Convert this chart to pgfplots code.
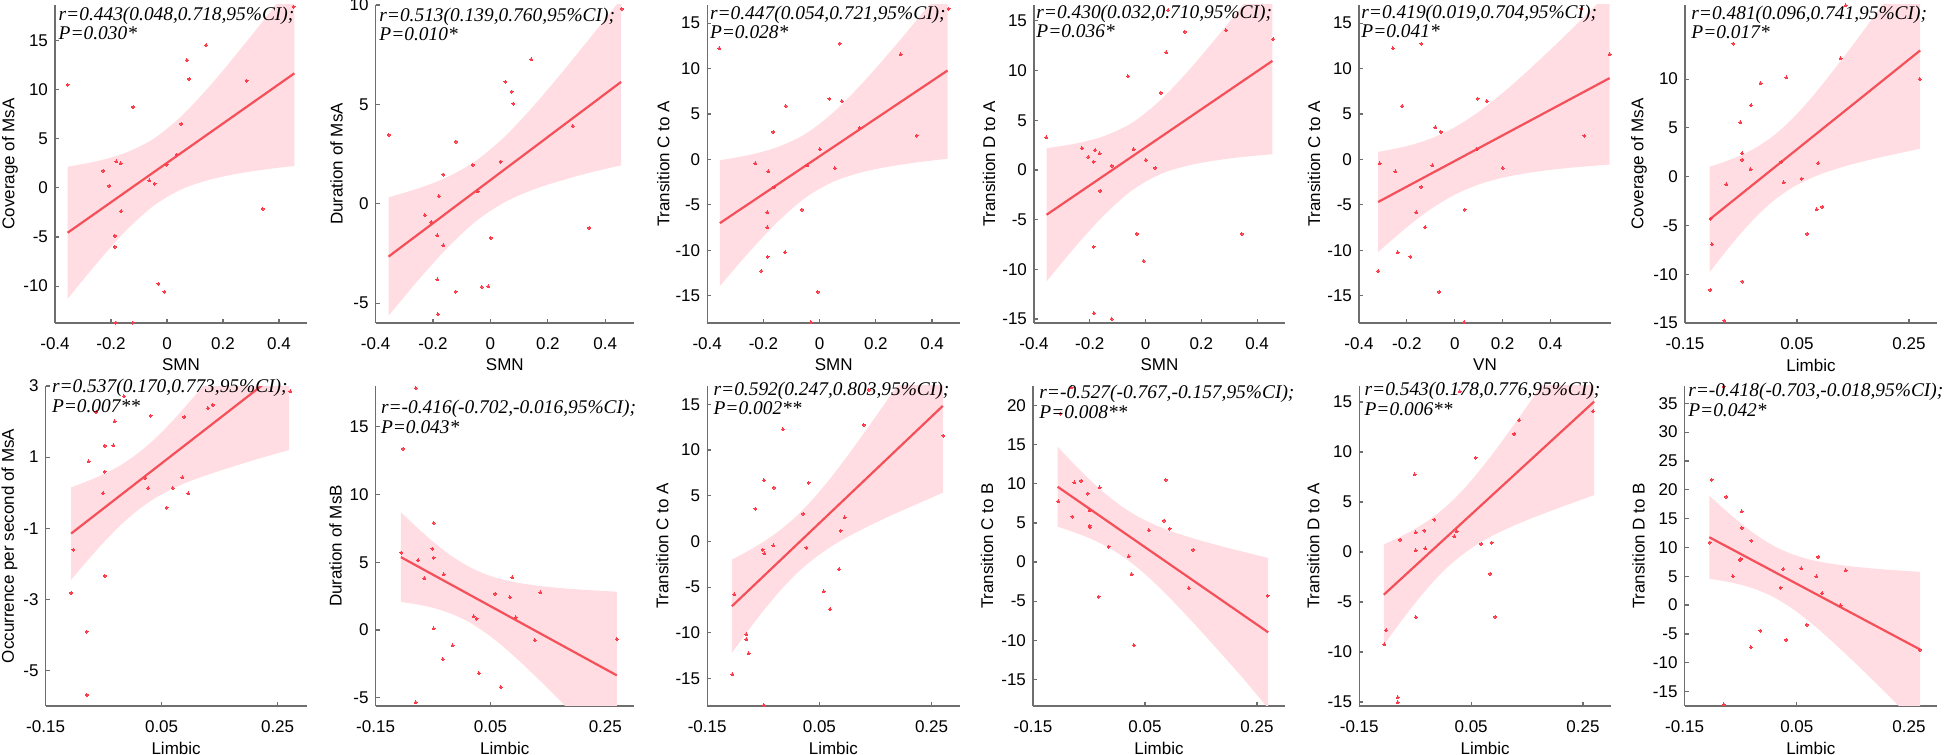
\documentclass[border=0pt]{standalone}
\usepackage{fontspec}
\setmainfont{Liberation Sans}
\newfontfamily\tnr{Liberation Serif}
\usepackage{pgfplots}
\pgfplotsset{compat=1.18}
\usepgfplotslibrary{fillbetween}
\definecolor{lc}{RGB}{245,80,90}
\definecolor{pc}{RGB}{250,60,75}
\definecolor{bc}{RGB}{255,221,226}
\definecolor{ax}{RGB}{110,110,110}
\pgfplotsset{
 panel/.style={scale only axis, anchor=south west, axis lines*=left, tick align=inside,
  major tick length=2pt, axis line style={ax, line width=0.6pt}, tick style={ax, line width=0.6pt},
  tick label style={font=\fontsize{8.5}{10}\selectfont, text=black},
  xticklabel style={anchor=center, yshift=-10.3pt},
  every axis x label/.style={at={(axis description cs:0.5,0)}, yshift=-21pt, anchor=center, font=\fontsize{8.5}{10}\selectfont},
  scaled ticks=false, clip=true},
 ylab/.style={every axis y label/.style={at={(axis description cs:0,0.5)}, xshift=#1, rotate=90, anchor=center, font=\fontsize{8.5}{10}\selectfont}},
 smn/.style={xmin=-0.4, xmax=0.5, xtick={-0.4,-0.2,0,0.2,0.4}, xticklabels={-0.4,-0.2,0,0.2,0.4}, xlabel={SMN}},
 limb/.style={xmin=-0.15, xmax=0.3, xtick={-0.15,0.05,0.25}, xticklabels={-0.15,0.05,0.25}, xlabel={Limbic}},
 y15/.style={ytick={-15,-10,-5,0,5,10,15}, yticklabels={-15,-10,-5,0,5,10,15}},
 bandfill/.style={fill=bc, draw=none},
 regline/.style={lc, line width=1.1pt},
 pts/.style={only marks, color=pc, mark=*, mark size=0.75pt, mark options={solid, draw=pc, fill=pc, line width=0pt}}
}
\newcommand\ann[5]{%
 \node[anchor=base west, inner sep=0pt, font=\tnr\itshape\fontsize{9.7}{10}\selectfont] at (#1pt,#2pt) {#4};
 \node[anchor=base west, inner sep=0pt, font=\tnr\itshape\fontsize{9.7}{10}\selectfont] at (#1pt,#3pt) {#5};}
\begin{document}
\begin{tikzpicture}
% ---------- P1
\begin{axis}[panel, smn, ylab=-22.5pt, at={(27.5pt,216pt)}, width=126pt, height=159pt,
  ymin=-13.75, ymax=18.6, ytick={-10,-5,0,5,10,15}, yticklabels={-10,-5,0,5,10,15}, ylabel={Coverage of MsA}]
\addplot[name path=U1, draw=none, smooth] coordinates {(-0.355,2.15) (-0.25,2.71) (-0.15,3.54) (-0.05,4.95) (0.05,7.25) (0.15,10.27) (0.25,13.67) (0.35,17.23) (0.455,21.05)};
\addplot[name path=L1, draw=none, smooth] coordinates {(-0.355,-11.29) (-0.25,-7.65) (-0.15,-4.46) (-0.05,-1.87) (0.05,-0.17) (0.15,0.81) (0.25,1.43) (0.35,1.87) (0.455,2.23)};
\addplot[bandfill] fill between[of=U1 and L1];
\addplot[pts] coordinates {(-0.355,10.5) (-0.228,1.73) (-0.206,0.2) (-0.181,2.68) (-0.166,2.5) (-0.163,-2.37) (-0.186,-4.88) (-0.186,-6.0) (-0.183,-13.7) (-0.122,-13.7) (-0.121,8.23) (-0.063,0.75) (-0.044,0.41) (-0.031,-9.76) (-0.009,-10.57) (-0.001,2.37) (0.034,3.39) (0.051,6.5) (0.071,13.0) (0.079,11.08) (0.140,14.5) (0.284,10.9) (0.342,-2.13) (0.452,18.43)};
\addplot[regline] coordinates {(-0.355,-4.57) (0.455,11.65)};
\end{axis}
% ---------- P2
\begin{axis}[panel, smn, ylab=-19.5pt, at={(187.8pt,216pt)}, width=129.2pt, height=159pt,
  ymin=-6, ymax=10, ytick={-5,0,5,10}, yticklabels={-5,0,5,10}, ylabel={Duration of MsA}]
\addplot[name path=U2, draw=none, smooth] coordinates {(-0.355,0.32) (-0.25,0.78) (-0.15,1.34) (-0.05,2.17) (0.05,3.38) (0.15,4.92) (0.25,6.62) (0.35,8.40) (0.455,10.3)};
\addplot[name path=L2, draw=none, smooth] coordinates {(-0.355,-5.64) (-0.25,-3.82) (-0.15,-2.22) (-0.05,-0.87) (0.05,0.08) (0.15,0.72) (0.25,1.18) (0.35,1.58) (0.455,1.93)};
\addplot[bandfill] fill between[of=U2 and L2];
\addplot[pts] coordinates {(-0.355,3.46) (-0.229,-0.57) (-0.206,-0.92) (-0.180,0.38) (-0.185,-1.59) (-0.165,1.47) (-0.164,-2.09) (-0.185,-3.81) (-0.183,-5.56) (-0.120,3.12) (-0.121,-4.42) (-0.062,1.95) (-0.044,0.62) (-0.031,-4.19) (-0.008,-4.16) (0.001,-1.72) (0.036,2.12) (0.052,6.14) (0.074,5.64) (0.080,5.04) (0.142,7.26) (0.286,3.91) (0.344,-1.22) (0.457,9.80)};
\addplot[regline] coordinates {(-0.355,-2.66) (0.455,6.13)};
\end{axis}
% ---------- P3
\begin{axis}[panel, smn, y15, ylab=-22pt, at={(353.6pt,216pt)}, width=126.5pt, height=159pt,
  ymin=-18, ymax=17, ylabel={Transition C to A}]
\addplot[name path=U3, draw=none, smooth] coordinates {(-0.355,-0.09) (-0.25,0.50) (-0.15,1.36) (-0.05,2.82) (0.05,5.21) (0.15,8.33) (0.25,11.83) (0.35,15.51) (0.455,19.4)};
\addplot[name path=L3, draw=none, smooth] coordinates {(-0.355,-13.93) (-0.25,-10.16) (-0.15,-6.88) (-0.05,-4.20) (0.05,-2.43) (0.15,-1.41) (0.25,-0.77) (0.35,-0.31) (0.455,0.08)};
\addplot[bandfill] fill between[of=U3 and L3];
\addplot[pts] coordinates {(-0.357,12.24) (-0.229,-0.44) (-0.207,-12.28) (-0.183,-1.32) (-0.186,-5.81) (-0.186,-7.45) (-0.185,-10.7) (-0.165,3.03) (-0.162,-3.03) (-0.121,5.88) (-0.123,-10.23) (-0.063,-5.52) (-0.044,-0.66) (-0.031,-17.9) (-0.007,-14.58) (0.001,1.13) (0.035,6.69) (0.054,-0.95) (0.072,12.75) (0.079,6.43) (0.142,3.47) (0.288,11.58) (0.345,2.63) (0.459,16.59)};
\addplot[regline] coordinates {(-0.355,-7.01) (0.455,9.79)};
\end{axis}
% ---------- P4
\begin{axis}[panel, smn, y15, ylab=-22.5pt, at={(517pt,216pt)}, width=125.5pt, height=159pt,
  ymin=-15.4, ymax=16.6, ylabel={Transition D to A}]
\addplot[name path=U4, draw=none, smooth] coordinates {(-0.355,2.19) (-0.25,2.66) (-0.15,3.40) (-0.05,4.72) (0.05,6.94) (0.15,9.87) (0.25,13.17) (0.35,16.63) (0.455,20.3)};
\addplot[name path=L4, draw=none, smooth] coordinates {(-0.355,-11.21) (-0.25,-7.66) (-0.15,-4.58) (-0.05,-2.08) (0.05,-0.46) (0.15,0.43) (0.25,0.95) (0.35,1.31) (0.455,1.58)};
\addplot[bandfill] fill between[of=U4 and L4];
\addplot[pts] coordinates {(-0.356,3.27) (-0.228,2.2) (-0.205,1.3) (-0.186,0.83) (-0.181,2.0) (-0.165,1.67) (-0.163,-2.1) (-0.186,-7.73) (-0.185,-14.4) (-0.121,0.43) (-0.122,-15.0) (-0.063,9.43) (-0.043,2.1) (-0.031,-6.43) (-0.007,-9.17) (0.001,1.0) (0.035,0.2) (0.055,7.77) (0.074,11.83) (0.081,16.07) (0.141,13.9) (0.288,14.07) (0.345,-6.43) (0.458,13.17)};
\addplot[regline] coordinates {(-0.355,-4.51) (0.455,10.98)};
\end{axis}
% ---------- P5
\begin{axis}[panel, y15, ylab=-22.5pt, at={(679.5pt,216pt)}, width=126pt, height=159pt,
  xmin=-0.4, xmax=0.653, xtick={-0.4,-0.2,0,0.2,0.4}, xticklabels={-0.4,-0.2,0,0.2,0.4}, xlabel={VN},
  ymin=-18, ymax=17, ylabel={Transition C to A}]
\addplot[name path=U5, draw=none, smooth] coordinates {(-0.32,0.83) (-0.2,1.47) (-0.1,2.30) (0,3.54) (0.1,5.24) (0.2,7.31) (0.3,9.63) (0.4,12.09) (0.5,14.63) (0.647,18.46)};
\addplot[name path=L5, draw=none, smooth] coordinates {(-0.32,-10.19) (-0.2,-7.45) (-0.1,-5.46) (0,-3.88) (0.1,-2.76) (0.2,-2.01) (0.3,-1.51) (0.4,-1.15) (0.5,-0.87) (0.647,-0.56)};
\addplot[bandfill] fill between[of=U5 and L5];
\addplot[pts] coordinates {(-0.320,-12.28) (-0.313,-0.44) (-0.259,12.24) (-0.248,-1.32) (-0.238,-10.23) (-0.220,5.88) (-0.185,-10.7) (-0.160,-5.81) (-0.140,-3.03) (-0.139,12.75) (-0.124,-7.45) (-0.093,-0.66) (-0.081,3.54) (-0.065,-14.58) (-0.058,3.03) (0.040,-17.9) (0.042,-5.52) (0.096,6.69) (0.134,6.43) (0.200,-0.95) (0.542,2.63) (0.647,11.58) (0.529,16.59) (0.092,1.13)};
\addplot[regline] coordinates {(-0.320,-4.68) (0.647,8.95)};
\end{axis}
% ---------- P6
\begin{axis}[panel, limb, ylab=-23pt, at={(842.5pt,216pt)}, width=126pt, height=159pt,
  ymin=-15, ymax=17.6, ytick={-15,-10,-5,0,5,10}, yticklabels={-15,-10,-5,0,5,10}, ylabel={Coverage of MsA}]
\addplot[name path=U6, draw=none, smooth] coordinates {(-0.106,1.02) (-0.08,1.51) (-0.05,2.19) (-0.02,3.09) (0.01,4.29) (0.04,5.85) (0.07,7.71) (0.10,9.80) (0.14,12.76) (0.18,15.85) (0.22,19.01) (0.27,23.19)};
\addplot[name path=L6, draw=none, smooth] coordinates {(-0.106,-9.78) (-0.08,-7.87) (-0.05,-5.79) (-0.02,-3.93) (0.01,-2.37) (0.04,-1.17) (0.07,-0.27) (0.10,0.42) (0.14,1.14) (0.18,1.73) (0.22,2.25) (0.27,2.87)};
\addplot[bandfill] fill between[of=U6 and L6];
\addplot[pts] coordinates {(-0.105,-11.6) (-0.102,-6.94) (-0.104,-4.29) (-0.080,-14.76) (-0.076,-0.78) (-0.064,13.64) (-0.051,5.58) (-0.048,2.41) (-0.048,1.73) (-0.048,-10.75) (-0.033,0.78) (-0.032,7.31) (-0.015,9.59) (0.022,1.53) (0.026,-0.58) (0.031,10.17) (0.058,-0.2) (0.068,-5.85) (0.085,-3.33) (0.088,1.39) (0.095,-3.1) (0.128,12.14) (0.137,17.55) (0.269,10.0)};
\addplot[regline] coordinates {(-0.106,-4.38) (0.27,12.94)};
\end{axis}
% ---------- P7
\begin{axis}[panel, limb, ylab=-18pt, at={(22.8pt,24.5pt)}, width=130.5pt, height=160pt,
  ymin=-6, ymax=3, ytick={-5,-3,-1,1,3}, yticklabels={-5,-3,-1,1,3}, ylabel={Occurrence per second of MsA}]
\addplot[name path=U7, draw=none, smooth] coordinates {(-0.106,0.15) (-0.08,0.31) (-0.05,0.52) (-0.02,0.78) (0.01,1.12) (0.04,1.54) (0.07,2.04) (0.10,2.59) (0.14,3.36) (0.18,4.17) (0.22,4.99) (0.27,6.08)};
\addplot[name path=L7, draw=none, smooth] coordinates {(-0.106,-2.45) (-0.08,-1.95) (-0.05,-1.40) (-0.02,-0.90) (0.01,-0.48) (0.04,-0.14) (0.07,0.12) (0.10,0.33) (0.14,0.56) (0.18,0.77) (0.22,0.97) (0.27,1.20)};
\addplot[bandfill] fill between[of=U7 and L7];
\addplot[pts] coordinates {(-0.106,-2.82) (-0.102,-1.60) (-0.079,-3.91) (-0.079,-5.69) (-0.076,0.88) (-0.063,2.27) (-0.051,-0.01) (-0.048,0.59) (-0.048,1.32) (-0.048,-2.34) (-0.033,1.33) (-0.031,2.01) (-0.015,2.71) (0.022,0.41) (0.027,0.13) (0.031,2.16) (0.059,-0.42) (0.069,0.13) (0.086,0.43) (0.089,2.13) (0.096,-0.02) (0.130,2.38) (0.138,2.47) (0.272,2.85)};
\addplot[regline] coordinates {(-0.106,-1.15) (0.27,3.61)};
\end{axis}
% ---------- P8
\begin{axis}[panel, limb, ylab=-20pt, at={(187.8pt,24.5pt)}, width=129.2pt, height=160pt,
  ymin=-5.6, ymax=18, ytick={-5,0,5,10,15}, yticklabels={-5,0,5,10,15}, ylabel={Duration of MsB}]
\addplot[name path=U8, draw=none, smooth] coordinates {(-0.106,8.69) (-0.08,7.65) (-0.05,6.52) (-0.02,5.53) (0.01,4.73) (0.04,4.14) (0.07,3.74) (0.10,3.47) (0.14,3.23) (0.18,3.07) (0.22,2.95) (0.27,2.83)};
\addplot[name path=L8, draw=none, smooth] coordinates {(-0.106,2.07) (-0.08,1.91) (-0.05,1.64) (-0.02,1.23) (0.01,0.65) (0.04,-0.16) (0.07,-1.14) (0.10,-2.27) (0.14,-3.89) (0.18,-5.59) (0.22,-7.31) (0.27,-9.61)};
\addplot[bandfill] fill between[of=U8 and L8];
\addplot[pts] coordinates {(-0.105,5.72) (-0.102,13.37) (-0.080,17.84) (-0.080,-5.33) (-0.076,5.16) (-0.065,3.83) (-0.051,6.0) (-0.049,7.89) (-0.049,5.33) (-0.049,0.12) (-0.033,-2.14) (-0.031,4.10) (-0.016,-1.13) (0.021,1.01) (0.026,0.84) (0.030,-3.17) (0.058,2.68) (0.068,-4.20) (0.084,2.41) (0.088,3.88) (0.094,0.93) (0.127,-0.74) (0.137,2.78) (0.270,-0.66)};
\addplot[regline] coordinates {(-0.106,5.38) (0.27,-3.34)};
\end{axis}
% ---------- P9
\begin{axis}[panel, limb, y15, ylab=-22.5pt, at={(353.6pt,24.5pt)}, width=126.2pt, height=160pt,
  ymin=-18, ymax=17, ylabel={Transition C to A}]
\addplot[name path=U9, draw=none, smooth] coordinates {(-0.106,-1.98) (-0.08,-1.14) (-0.05,-0.05) (-0.02,1.24) (0.01,2.82) (0.04,4.74) (0.07,6.94) (0.10,9.35) (0.14,12.75) (0.18,16.26) (0.22,19.84) (0.27,24.55)};
\addplot[name path=L9, draw=none, smooth] coordinates {(-0.106,-12.20) (-0.08,-10.00) (-0.05,-7.59) (-0.02,-5.40) (0.01,-3.48) (0.04,-1.90) (0.07,-0.60) (0.10,0.49) (0.14,1.75) (0.18,2.90) (0.22,3.98) (0.27,5.33)};
\addplot[bandfill] fill between[of=U9 and L9];
\addplot[pts] coordinates {(-0.105,-14.53) (-0.102,-5.80) (-0.080,-10.15) (-0.080,-10.69) (-0.076,-12.23) (-0.064,3.58) (-0.051,-0.91) (-0.049,6.68) (-0.048,-1.31) (-0.049,-17.9) (-0.032,-0.44) (-0.031,5.88) (-0.015,12.26) (0.021,3.03) (0.027,-0.69) (0.031,6.42) (0.058,-5.47) (0.069,-7.41) (0.085,-3.03) (0.088,1.17) (0.095,2.63) (0.129,12.74) (0.138,16.57) (0.271,11.57)};
\addplot[regline] coordinates {(-0.106,-7.09) (0.27,14.82)};
\end{axis}
% ---------- P10
\begin{axis}[panel, limb, ylab=-23pt, at={(516.5pt,24.5pt)}, width=126pt, height=160pt,
  ymin=-18.4, ymax=22.5, ytick={-15,-10,-5,0,5,10,15,20}, yticklabels={-15,-10,-5,0,5,10,15,20}, ylabel={Transition C to B}]
\addplot[name path=U10, draw=none, smooth] coordinates {(-0.106,14.73) (-0.08,12.76) (-0.05,10.61) (-0.02,8.68) (0.01,7.03) (0.04,5.71) (0.07,4.68) (0.10,3.85) (0.14,2.94) (0.18,2.14) (0.22,1.41) (0.27,0.52)};
\addplot[name path=L10, draw=none, smooth] coordinates {(-0.106,4.51) (-0.08,3.90) (-0.05,3.07) (-0.02,2.04) (0.01,0.73) (0.04,-0.93) (0.07,-2.86) (0.10,-5.01) (0.14,-8.06) (0.18,-11.22) (0.22,-14.45) (0.27,-18.70)};
\addplot[bandfill] fill between[of=U10 and L10];
\addplot[pts] coordinates {(-0.105,7.74) (-0.101,18.97) (-0.081,22.31) (-0.080,5.81) (-0.076,10.17) (-0.064,10.38) (-0.052,8.76) (-0.049,6.62) (-0.049,4.62) (-0.048,4.45) (-0.033,-4.44) (-0.031,9.53) (-0.015,1.97) (0.021,0.73) (0.026,-1.54) (0.030,-10.64) (0.057,4.06) (0.067,-18.42) (0.084,5.30) (0.087,10.51) (0.094,4.27) (0.128,-3.33) (0.136,1.58) (0.269,-4.32)};
\addplot[regline] coordinates {(-0.106,9.62) (0.27,-8.99)};
\end{axis}
% ---------- P11
\begin{axis}[panel, limb, y15, ylab=-23pt, at={(679.6pt,24.5pt)}, width=125.9pt, height=160pt,
  ymin=-15.4, ymax=16.6, ylabel={Transition D to A}]
\addplot[name path=U11, draw=none, smooth] coordinates {(-0.106,0.76) (-0.08,1.43) (-0.05,2.32) (-0.02,3.41) (0.01,4.79) (0.04,6.49) (0.07,8.49) (0.10,10.68) (0.14,13.78) (0.18,17.01) (0.22,20.28) (0.27,24.61)};
\addplot[name path=L11, draw=none, smooth] coordinates {(-0.106,-9.30) (-0.08,-7.29) (-0.05,-5.10) (-0.02,-3.11) (0.01,-1.41) (0.04,-0.03) (0.07,1.07) (0.10,1.96) (0.14,2.96) (0.18,3.85) (0.22,4.68) (0.27,5.69)};
\addplot[bandfill] fill between[of=U11 and L11];
\addplot[pts] coordinates {(-0.105,-9.23) (-0.102,-7.83) (-0.081,-14.55) (-0.081,-15.05) (-0.077,1.24) (-0.051,7.76) (-0.049,1.97) (-0.049,0.17) (-0.049,-6.52) (-0.034,2.14) (-0.032,0.37) (-0.016,3.24) (0.020,1.57) (0.024,2.07) (0.030,16.05) (0.058,9.43) (0.068,0.80) (0.084,-2.17) (0.087,0.94) (0.093,-6.49) (0.127,11.8) (0.136,13.18) (0.268,14.08)};
\addplot[regline] coordinates {(-0.106,-4.27) (0.27,15.05)};
\end{axis}
% ---------- P12
\begin{axis}[panel, limb, ylab=-23pt, at={(842.3pt,24.5pt)}, width=126.2pt, height=160pt,
  ymin=-17.5, ymax=38, ytick={-15,-10,-5,0,5,10,15,20,25,30,35}, yticklabels={-15,-10,-5,0,5,10,15,20,25,30,35}, ylabel={Transition D to B}]
\addplot[name path=U12, draw=none, smooth] coordinates {(-0.106,18.98) (-0.08,16.68) (-0.05,14.20) (-0.02,12.01) (0.01,10.21) (0.04,8.90) (0.07,7.98) (0.10,7.36) (0.14,6.80) (0.18,6.40) (0.22,6.08) (0.27,5.77)};
\addplot[name path=L12, draw=none, smooth] coordinates {(-0.106,4.56) (-0.08,4.16) (-0.05,3.54) (-0.02,2.63) (0.01,1.31) (0.04,-0.48) (0.07,-2.68) (0.10,-5.16) (0.14,-8.74) (0.18,-12.48) (0.22,-16.32) (0.27,-21.39)};
\addplot[bandfill] fill between[of=U12 and L12];
\addplot[pts] coordinates {(-0.105,10.85) (-0.102,21.75) (-0.080,37.93) (-0.080,-17.23) (-0.076,18.79) (-0.064,4.99) (-0.051,7.83) (-0.050,8.0) (-0.048,16.24) (-0.048,13.4) (-0.032,-7.31) (-0.031,11.19) (-0.015,-4.41) (0.021,3.02) (0.026,6.26) (0.031,-6.03) (0.058,6.38) (0.068,-3.42) (0.085,4.99) (0.088,8.35) (0.095,2.09) (0.128,0.0) (0.137,6.03) (0.269,-7.77)};
\addplot[regline] coordinates {(-0.106,11.77) (0.27,-7.71)};
\end{axis}
% ---------- annotations
\ann{29.15}{367.15}{357.7}{r=0.443(0.048,0.718,95\%CI);}{P=0.030*}
\ann{189.5}{366.65}{357.2}{r=0.513(0.139,0.760,95\%CI);}{P=0.010*}
\ann{354.8}{367.5}{358.0}{r=0.447(0.054,0.721,95\%CI);}{P=0.028*}
\ann{518}{368.35}{358.8}{r=0.430(0.032,0.710,95\%CI);}{P=0.036*}
\ann{680.5}{368.35}{358.8}{r=0.419(0.019,0.704,95\%CI);}{P=0.041*}
\ann{845.5}{367.5}{358.0}{r=0.481(0.096,0.741,95\%CI);}{P=0.017*}
\ann{25.8}{181.0}{171.2}{r=0.537(0.170,0.773,95\%CI);}{P=0.007**}
\ann{190.3}{170.5}{160.5}{r=-0.416(-0.702,-0.016,95\%CI);}{P=0.043*}
\ann{356.6}{179.75}{170.25}{r=0.592(0.247,0.803,95\%CI);}{P=0.002**}
\ann{519.5}{178}{168}{r=-0.527(-0.767,-0.157,95\%CI);}{P=0.008**}
\ann{682.1}{179.5}{169.5}{r=0.543(0.178,0.776,95\%CI);}{P=0.006**}
\ann{843.95}{179}{169}{r=-0.418(-0.703,-0.018,95\%CI);}{P=0.042*}
\pgfresetboundingbox
\path[use as bounding box] (0,0) rectangle (972pt,377.5pt);
\end{tikzpicture}
\end{document}
